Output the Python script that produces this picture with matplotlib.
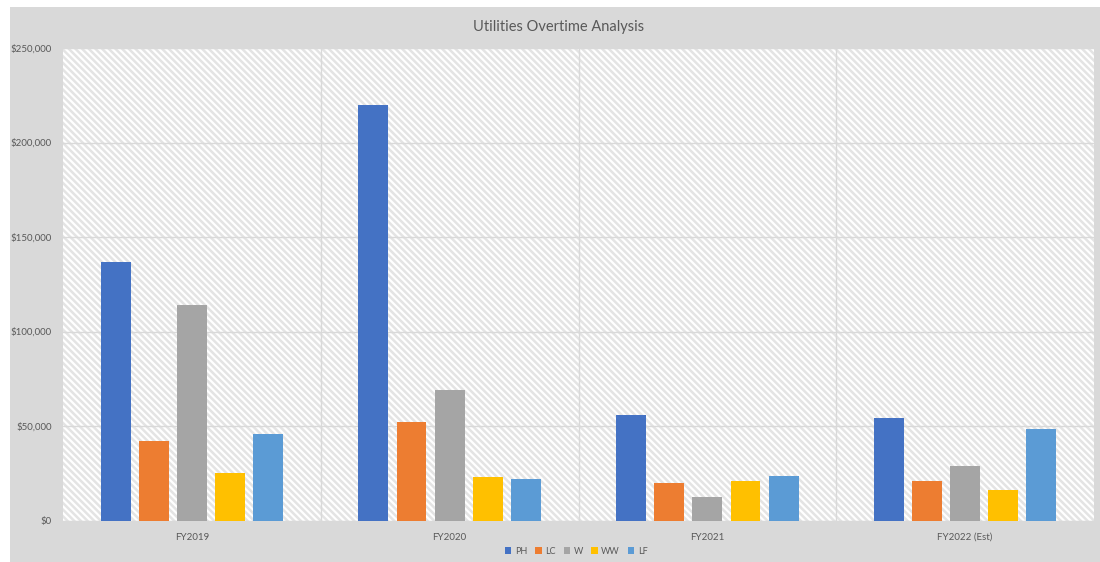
import matplotlib
matplotlib.use("Agg")
import matplotlib.pyplot as plt
import numpy as np
from matplotlib.patches import Rectangle
from matplotlib.ticker import FuncFormatter, MultipleLocator

plt.rcParams['font.family'] = ['Lato', 'DejaVu Sans']
plt.rcParams['hatch.linewidth'] = 1.8

years = ["FY2019", "FY2020", "FY2021", "FY2022 (Est)"]
series = ["PH", "LC", "W", "WW", "LF"]
colors = ['#4472c4', '#ed7d31', '#a5a5a5', '#ffc000', '#5b9bd5']

ph = [137000, 220000, 56000, 54000]
lc = [42000, 52000, 20000, 21000]
w = [114000, 69000, 12500, 29000]
ww = [25000, 23000, 21000, 16000]
lf = [46000, 22000, 23500, 48500]
values = [ph, lc, w, ww, lf]

W, H = 1100, 562
fig = plt.figure(figsize=(W / 100, H / 100), dpi=100)
fig.patch.set_facecolor('white')
# grey chart background
fig.patches.append(Rectangle((10 / W, 0), 1 - 10 / W, 1 - 7 / H, transform=fig.transFigure,
                             facecolor='#d9d9d9', edgecolor='none', zorder=-10))

ax = fig.add_axes([63 / W, (H - 520.5) / H, (1094 - 63) / W, (520.5 - 48) / H])
ax.set_facecolor('white')
ax.add_patch(Rectangle((0, 0), 1, 1, transform=ax.transAxes, facecolor='white',
                       edgecolor='#e4e4e4', hatch='\\' * 5, linewidth=0, zorder=0))

x = np.arange(len(years))
bw = 0.116
pitch = 0.148
for i, (name, vals) in enumerate(zip(series, values)):
    ax.bar(x + (i - 2) * pitch, vals, width=bw, color=colors[i], label=name, zorder=3)

ax.set_xlim(-0.5, len(years) - 0.5)
ax.set_ylim(0, 250000)
ax.yaxis.set_major_locator(MultipleLocator(50000))
ax.yaxis.set_major_formatter(FuncFormatter(lambda v, p: "${:,.0f}".format(v)))
ax.set_xticks(x)
ax.set_xticklabels(years)
ax.set_xticks(np.arange(len(years) - 1) + 0.5, minor=True)
ax.grid(axis='y', which='major', color='#d9d9d9', linewidth=1, zorder=1)
ax.grid(axis='x', which='minor', color='#d9d9d9', linewidth=1, zorder=1)
ax.set_axisbelow(True)
ax.tick_params(axis='both', which='both', length=0, labelsize=7, colors='#595959')
ax.tick_params(axis='y', pad=8)
ax.tick_params(axis='x', pad=9)
for s in ['top', 'right', 'left']:
    ax.spines[s].set_visible(False)
ax.spines['bottom'].set_color('#d9d9d9')

fig.text(0.5075, 1 - 27 / H, "Utilities Overtime Analysis", ha='center', va='center',
         fontsize=10.5, color='#595959')

leg = fig.legend(loc='center', bbox_to_anchor=(0.524, 1 - 551 / H), ncol=5, frameon=False,
                 fontsize=6.5, handlelength=0.7, handleheight=0.7, handletextpad=0.4,
                 columnspacing=0.9)
for t in leg.get_texts():
    t.set_color('#595959')

fig.savefig("out.png", dpi=100, facecolor=fig.get_facecolor())
